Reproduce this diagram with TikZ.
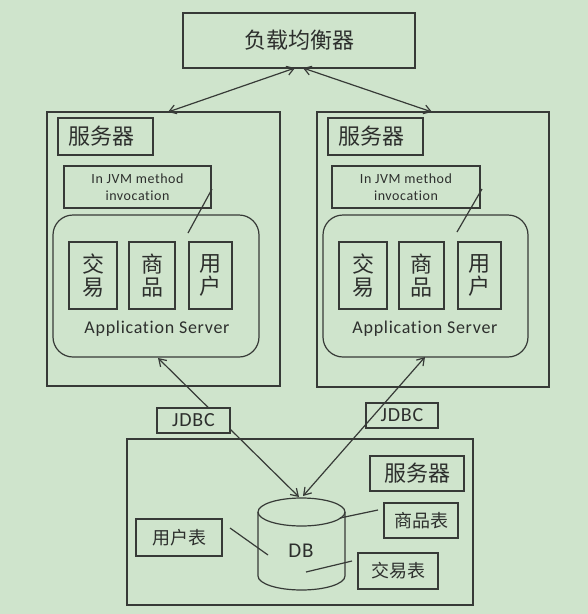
\documentclass[tikz,border=0pt]{standalone}
\usepackage{fontspec}
\setmainfont{Carlito}
\newfontfamily\cjk{Noto Sans CJK SC}
\newfontfamily\widesans[LetterSpace=4,Ligatures=NoCommon]{Carlito}
\usetikzlibrary{arrows.meta}
\definecolor{bg}{RGB}{207,228,204}
\definecolor{ink}{RGB}{55,58,55}
\definecolor{txt}{RGB}{45,47,45}
\tikzset{
  box/.style={draw=ink, line width=1.2pt, rectangle, inner sep=0pt, text=txt},
  cjkbig/.style={font=\cjk\fontsize{22}{23}\selectfont},
  cjkmid/.style={font=\cjk\fontsize{18}{19}\selectfont},
  conn/.style={draw=ink, line width=1.2pt},
  biarrow/.style={conn, {Straight Barb[length=7pt,width=9pt]}-{Straight Barb[length=7pt,width=9pt]}},
}
\begin{document}
\begin{tikzpicture}[x=1pt,y=-1pt]
\fill[bg] (0,0) rectangle (588,614);
\useasboundingbox (0,0) rectangle (588,614);

% top load balancer
\node[box, cjkbig, minimum width=232pt, minimum height=55pt] (lb) at (299,40.5) {负载均衡器};

% left server
\node[box, minimum width=233pt, minimum height=274pt] (ls) at (163.5,249) {};
\node[box, cjkbig, minimum width=95pt, minimum height=37pt] (lsl) at (105.5,136.5) {服务器\hspace*{8pt}};
\node[box, minimum width=147pt, minimum height=42pt, align=center, font=\widesans\fontsize{14}{17}\selectfont] (ljvm) at (137.5,187) {In JVM method\\invocation};
\node[box, rounded corners=20pt, minimum width=206pt, minimum height=142pt] (lapp) at (156,286) {};
\node[box, cjkbig, align=center, minimum width=48pt, minimum height=67pt] (lt) at (93,275.5) {交\\易};
\node[box, cjkbig, align=center, minimum width=46pt, minimum height=67pt] (lp) at (152,275.5) {商\\品};
\node[box, cjkbig, align=center, minimum width=43pt, minimum height=67pt] (lu) at (210.5,275.5) {用\\户};
\node[text=txt, font=\widesans\fontsize{18}{20}\selectfont] (las) at (157,329) {Application Server};

% right server
\node[box, minimum width=232pt, minimum height=275pt] (rs) at (433,249.5) {};
\node[box, cjkbig, minimum width=95pt, minimum height=37pt] (rsl) at (375.5,136.5) {服务器\hspace*{8pt}};
\node[box, minimum width=148pt, minimum height=42pt, align=center, font=\widesans\fontsize{14}{17}\selectfont] (rjvm) at (406,187) {In JVM method\\invocation};
\node[box, rounded corners=20pt, minimum width=205pt, minimum height=142pt] (rapp) at (425.5,286) {};
\node[box, cjkbig, align=center, minimum width=48pt, minimum height=67pt] (rt) at (363,275.5) {交\\易};
\node[box, cjkbig, align=center, minimum width=45pt, minimum height=67pt] (rp) at (421.5,275.5) {商\\品};
\node[box, cjkbig, align=center, minimum width=43pt, minimum height=67pt] (ru) at (479.5,275.5) {用\\户};
\node[text=txt, font=\widesans\fontsize{18}{20}\selectfont] (ras) at (425,329) {Application Server};

% bottom server
\node[box, minimum width=346pt, minimum height=166pt] (bs) at (300,522) {};
\node[box, cjkbig, minimum width=94pt, minimum height=35pt] (bsl) at (417,473.5) {服务器};

% DB cylinder
\draw[conn, fill=bg] (258,512) -- (258,576) arc[start angle=180, end angle=360, x radius=43.5pt, y radius=14pt] -- (345,512);
\draw[conn] (301.5,512) ellipse[x radius=43.5pt, y radius=14pt];
\node[text=txt, font=\widesans\fontsize{21}{22}\selectfont] (db) at (301,551) {DB};

\node[box, cjkmid, minimum width=86pt, minimum height=37pt] (ut) at (179,537.5) {用户表};
\node[box, cjkmid, minimum width=74pt, minimum height=35pt] (pt) at (421,520.5) {商品表};
\node[box, cjkmid, minimum width=80pt, minimum height=36pt] (tt) at (398,571) {交易表};

% connector endpoints
\coordinate (lbl) at (295,68);
\coordinate (lbr) at (303,68);
\coordinate (lstop) at (168,112);
\coordinate (rstop) at (432,112);
\coordinate (lappb) at (158,358);
\coordinate (rappb) at (425,357);
\coordinate (dbtopl) at (299,497);
\coordinate (dbtopr) at (303,496);

\draw[biarrow] (lbl) -- (lstop);
\draw[biarrow] (lbr) -- (rstop);
\draw[biarrow] (lappb) -- (dbtopl);
\draw[biarrow] (rappb) -- (dbtopr);

% JDBC labels
\node[box, fill=bg, font=\widesans\fontsize{20}{21}\selectfont, minimum width=73pt, minimum height=25pt] (jl) at (193.5,420.5) {JDBC};
\node[box, font=\widesans\fontsize{20}{21}\selectfont, minimum width=72pt, minimum height=25pt] (jr) at (402,415.5) {JDBC};

% callout lines
\coordinate (ljvmc) at (212,189);
\coordinate (ljvme) at (188,233);
\coordinate (rjvmc) at (482,189);
\coordinate (rjvme) at (457,232);
\draw[conn] (ljvmc) -- (ljvme);
\draw[conn] (rjvmc) -- (rjvme);

\coordinate (utc) at (230,528);
\coordinate (ute) at (268,555);
\coordinate (ptc) at (378,510);
\coordinate (pte) at (340,518);
\coordinate (ttc) at (352,561);
\coordinate (tte) at (306,572);
\draw[conn] (utc) -- (ute);
\draw[conn] (ptc) -- (pte);
\draw[conn] (ttc) -- (tte);
\end{tikzpicture}
\end{document}
